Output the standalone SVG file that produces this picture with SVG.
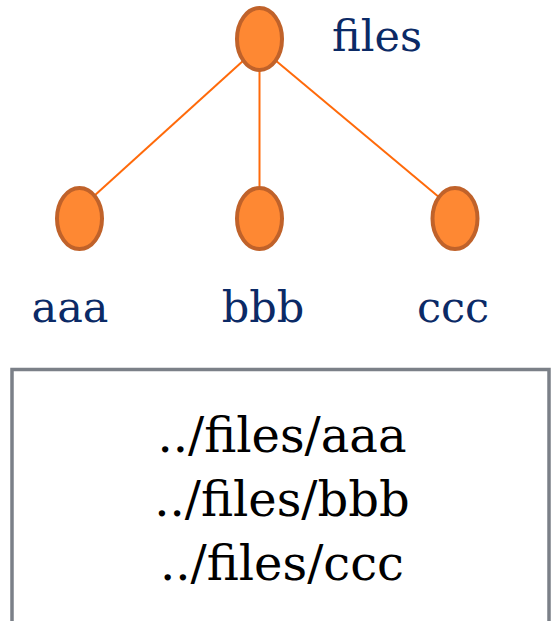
<svg xmlns="http://www.w3.org/2000/svg" width="552" height="621" viewBox="0 0 552 621">
  <style>
    .node { fill: #fe8833; stroke: #c0622a; stroke-width: 4; }
    .edge { stroke: #ff6a0a; stroke-width: 2; fill: none; }
    .label { font-family: "DejaVu Serif", "Liberation Serif", serif; font-size: 43px; fill: #0b2a66; }
    .path { font-family: "DejaVu Serif", "Liberation Serif", serif; font-size: 48px; fill: #000; text-anchor: middle; }
  </style>
  <rect width="552" height="621" fill="#fff"/>
  <g id="edges">
    <line class="edge" x1="244" y1="60" x2="94" y2="196"/>
    <line class="edge" x1="259.5" y1="70" x2="259.5" y2="186"/>
    <line class="edge" x1="275" y1="60" x2="440" y2="198"/>
  </g>
  <g id="node-files">
    <ellipse class="node" cx="259.5" cy="39" rx="22.5" ry="31"/>
    <text class="label" x="332" y="51">files</text>
  </g>
  <g id="node-aaa">
    <ellipse class="node" cx="79.5" cy="218.5" rx="22.5" ry="30.5"/>
    <text class="label" x="70" y="322" text-anchor="middle">aaa</text>
  </g>
  <g id="node-bbb">
    <ellipse class="node" cx="259.5" cy="218.5" rx="22.5" ry="30.5"/>
    <text class="label" x="263" y="322" text-anchor="middle">bbb</text>
  </g>
  <g id="node-ccc">
    <ellipse class="node" cx="455" cy="218.5" rx="22.5" ry="30.5"/>
    <text class="label" x="453" y="322" text-anchor="middle">ccc</text>
  </g>
  <g id="paths-box">
    <rect x="12" y="369.5" width="537" height="270" fill="#fff" stroke="#7b8088" stroke-width="3.5"/>
    <text class="path" x="282" y="452">../files/aaa</text>
    <text class="path" x="282" y="516">../files/bbb</text>
    <text class="path" x="282" y="580">../files/ccc</text>
  </g>
</svg>
